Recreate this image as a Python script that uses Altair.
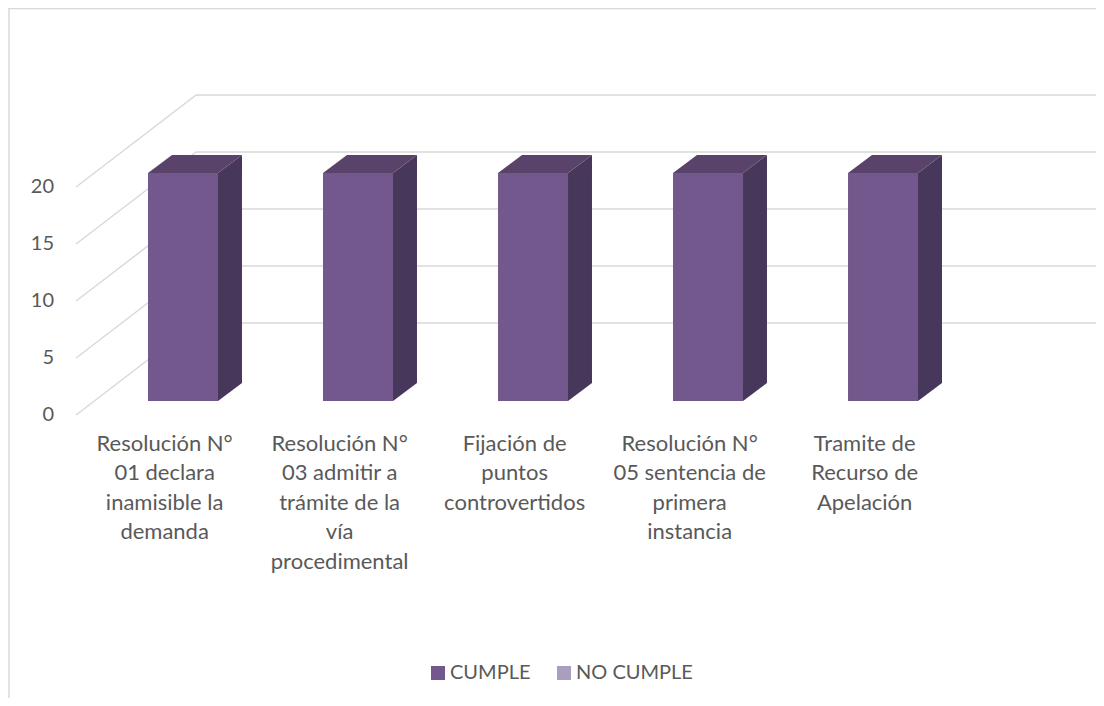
import altair as alt
import pandas as pd

categories = [
    "Resolución N°\n01 declara\ninamisible la\ndemanda",
    "Resolución N°\n03 admitir a\ntrámite de la\nvía\nprocedimental",
    "Fijación de\npuntos\ncontrovertidos",
    "Resolución N°\n05 sentencia de\nprimera\ninstancia",
    "Tramite de\nRecurso de\nApelación",
]
cumple = [20, 20, 20, 20, 20]
no_cumple = [0, 0, 0, 0, 0]
ticks = [0, 5, 10, 15, 20]
series = ["CUMPLE", "NO CUMPLE"]
series_colors = ["#72588C", "#AB9DBD"]

FONT = "Lato"
TXT = "#595959"
GRID = "#D9D9D9"
SIDE = "#47375A"
TOP = "#59436B"

# scale geometry (category units / value units)
XD = [-1.0, 5.217]
YD = [-26.053, 34.474]
half = 0.2
bar_dx, bar_dy = 0.137, 1.579
floor_shift = -1.228
wall_dx, wall_dy = 0.686, 8.07
grid_left = -0.611
grid_right = 5.217

x_s = alt.Scale(domain=XD, nice=False, zero=False)
y_s = alt.Scale(domain=YD, nice=False, zero=False)
X = alt.X("x:Q", scale=x_s, axis=None)
Y = alt.Y("y:Q", scale=y_s, axis=None)

grid_rows = []
for t in ticks:
    y0 = t + floor_shift
    for px, py in [(grid_left, y0), (grid_left + wall_dx, y0 + wall_dy), (grid_right, y0 + wall_dy)]:
        grid_rows.append({"x": px, "y": py, "t": t})
grid = (
    alt.Chart(pd.DataFrame(grid_rows))
    .mark_line(color=GRID, strokeWidth=1.5)
    .encode(x=X, y=Y, detail="t:N", order=alt.Order("x:Q"))
)

tick_df = pd.DataFrame({"x": [-0.737] * len(ticks), "y": [t + floor_shift for t in ticks], "label": [str(t) for t in ticks]})
tick_text = (
    alt.Chart(tick_df)
    .mark_text(font=FONT, fontSize=20, color=TXT, align="right", baseline="middle")
    .encode(x=X, y=Y, text="label:N")
)

bar_rows = []
for name, vals in zip(series, [cumple, no_cumple]):
    for i, v in enumerate(vals):
        bar_rows.append({"x": i - half, "x2": i + half, "y": 0, "y2": v, "serie": name})
front = (
    alt.Chart(pd.DataFrame(bar_rows))
    .mark_bar()
    .encode(
        x=X,
        x2="x2:Q",
        y=Y,
        y2="y2:Q",
        color=alt.Color(
            "serie:N",
            scale=alt.Scale(domain=series, range=series_colors),
            legend=alt.Legend(
                title=None,
                orient="none",
                legendX=420,
                legendY=655,
                direction="horizontal",
                symbolType="square",
                symbolSize=196,
                symbolStrokeWidth=0,
                labelFont=FONT,
                labelFontSize=20,
                labelColor=TXT,
                labelOffset=2,
                columnPadding=23,
            ),
        ),
    )
)

side_rows, top_rows = [], []
for i, v in enumerate(cumple):
    r = i + half
    l = i - half
    side_rows += [
        {"x": r, "y": 0, "y2": v, "c": i},
        {"x": r + bar_dx, "y": bar_dy, "y2": v + bar_dy, "c": i},
    ]
    top_rows += [
        {"x": l, "y": v, "y2": v, "c": i},
        {"x": l + bar_dx, "y": v, "y2": v + bar_dy, "c": i},
        {"x": r, "y": v, "y2": v + bar_dy, "c": i},
        {"x": r + bar_dx, "y": v + bar_dy, "y2": v + bar_dy, "c": i},
    ]
side = (
    alt.Chart(pd.DataFrame(side_rows))
    .mark_area(color=SIDE)
    .encode(x=X, y=Y, y2="y2:Q", detail="c:N")
)
top = (
    alt.Chart(pd.DataFrame(top_rows))
    .mark_area(color=TOP)
    .encode(x=X, y=Y, y2="y2:Q", detail="c:N")
)

cat_df = pd.DataFrame(
    {"x": [-0.105 + 1.0 * i for i in range(len(categories))], "y": [-2.9] * len(categories), "label": categories}
)
cat_text = (
    alt.Chart(cat_df)
    .mark_text(font=FONT, fontSize=22, color=TXT, align="center", baseline="top", lineBreak="\n", lineHeight=29.4)
    .encode(x=X, y=Y, text="label:N")
)

frame_top = alt.Chart(pd.DataFrame({"a": [0]})).mark_rule(color=GRID, strokeWidth=1.5).encode(
    x=alt.value(0), x2=alt.value(1088), y=alt.value(0.5)
)
frame_left = alt.Chart(pd.DataFrame({"a": [0]})).mark_rule(color=GRID, strokeWidth=1.5).encode(
    x=alt.value(1), y=alt.value(0), y2=alt.value(690)
)

chart = (
    alt.layer(frame_top, frame_left, grid, tick_text, side, top, front, cat_text)
    .properties(width=1088, height=690, padding=0, autosize=alt.AutoSizeParams(type="none"), background="white")
    .configure_view(stroke=None)
)
chart.save("out.html", embed_options={"renderer": "svg", "actions": False})
